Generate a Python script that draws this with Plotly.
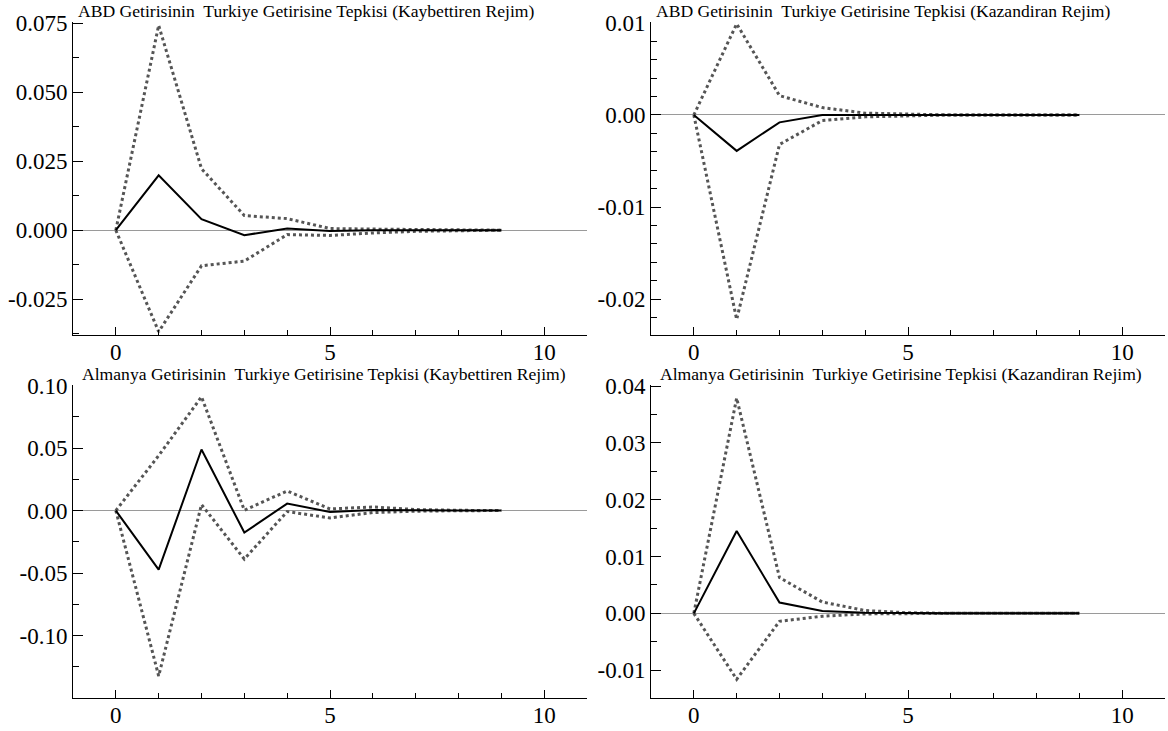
import plotly.graph_objects as go

# Horizon
steps = [0, 1, 2, 3, 4, 5, 6, 7, 8, 9]

# Panel titles
titles = [
    "ABD Getirisinin  Turkiye Getirisine Tepkisi (Kaybettiren Rejim)",
    "ABD Getirisinin  Turkiye Getirisine Tepkisi (Kazandiran Rejim)",
    "Almanya Getirisinin  Turkiye Getirisine Tepkisi (Kaybettiren Rejim)",
    "Almanya Getirisinin  Turkiye Getirisine Tepkisi (Kazandiran Rejim)",
]

# Panel 1: ABD, Kaybettiren
abd_kay_resp = [0, 0.0199, 0.0040, -0.0018, 0.0006, -0.0003, 0.0000, 0.0000, 0.0000, 0.0000]
abd_kay_up = [0, 0.0743, 0.0223, 0.0053, 0.0042, 0.0006, 0.0004, 0.0002, 0.0001, 0.0000]
abd_kay_lo = [0, -0.0368, -0.0129, -0.0112, -0.0016, -0.0019, -0.0010, -0.0004, -0.0002, 0.0000]

# Panel 2: ABD, Kazandiran
abd_kaz_resp = [0, -0.0039, -0.0008, 0.0000, 0.0000, 0.0000, 0.0000, 0.0000, 0.0000, 0.0000]
abd_kaz_up = [0, 0.0099, 0.0021, 0.0008, 0.0002, 0.0001, 0.0000, 0.0000, 0.0000, 0.0000]
abd_kaz_lo = [0, -0.0222, -0.0032, -0.0006, -0.0002, -0.0001, 0.0000, 0.0000, 0.0000, 0.0000]

# Panel 3: Almanya, Kaybettiren
alm_kay_resp = [0, -0.0473, 0.0489, -0.0176, 0.0056, -0.0011, 0.0005, 0.0000, 0.0000, 0.0000]
alm_kay_up = [0, 0.0440, 0.0910, 0.0003, 0.0157, 0.0013, 0.0029, 0.0008, 0.0002, 0.0000]
alm_kay_lo = [0, -0.1324, 0.0048, -0.0388, -0.0008, -0.0059, -0.0016, -0.0005, -0.0001, 0.0000]

# Panel 4: Almanya, Kazandiran
alm_kaz_resp = [0, 0.0145, 0.0019, 0.0004, 0.0001, 0.0000, 0.0000, 0.0000, 0.0000, 0.0000]
alm_kaz_up = [0, 0.0379, 0.0063, 0.0020, 0.0005, 0.0001, 0.0000, 0.0000, 0.0000, 0.0000]
alm_kaz_lo = [0, -0.0116, -0.0014, -0.0005, -0.0001, 0.0000, 0.0000, 0.0000, 0.0000, 0.0000]

# Y tick values / labels per panel
p1_tickvals = [0.075, 0.050, 0.025, 0.000, -0.025]
p1_ticktext = ["0.075", "0.050", "0.025", "0.000", "-0.025"]
p2_tickvals = [0.01, 0.00, -0.01, -0.02]
p2_ticktext = ["0.01", "0.00", "-0.01", "-0.02"]
p3_tickvals = [0.10, 0.05, 0.00, -0.05, -0.10]
p3_ticktext = ["0.10", "0.05", "0.00", "-0.05", "-0.10"]
p4_tickvals = [0.04, 0.03, 0.02, 0.01, 0.00, -0.01]
p4_ticktext = ["0.04", "0.03", "0.02", "0.01", "0.00", "-0.01"]

x_tickvals = [0, 5, 10]
x_ticktext = ["0", "5", "10"]

panels = [
    dict(resp=abd_kay_resp, up=abd_kay_up, lo=abd_kay_lo, tv=p1_tickvals, tt=p1_ticktext,
         yr=[-0.038, 0.0755], minor=0.0125),
    dict(resp=abd_kaz_resp, up=abd_kaz_up, lo=abd_kaz_lo, tv=p2_tickvals, tt=p2_ticktext,
         yr=[-0.0239, 0.0101], minor=0.002),
    dict(resp=alm_kay_resp, up=alm_kay_up, lo=alm_kay_lo, tv=p3_tickvals, tt=p3_ticktext,
         yr=[-0.150, 0.1005], minor=0.025),
    dict(resp=alm_kaz_resp, up=alm_kaz_up, lo=alm_kaz_lo, tv=p4_tickvals, tt=p4_ticktext,
         yr=[-0.0149, 0.0402], minor=0.005),
]

W, H = 1168, 731
# pixel geometry of the panels (left, right, top, bottom)
geom = [
    (73, 587, 22, 335),
    (651, 1165, 22, 335),
    (73, 587, 385, 698),
    (651, 1165, 385, 698),
]
title_pos = [(76, 11), (654, 11), (80, 374), (658, 374)]

FONT = "Liberation Serif, Times New Roman, serif"
fig = go.Figure()
layout = dict(
    width=W, height=H,
    margin=dict(l=0, r=0, t=0, b=0, pad=0, autoexpand=False),
    paper_bgcolor="white", plot_bgcolor="white",
    showlegend=False,
    font=dict(family=FONT, color="black", size=23),
)

annotations = []
for i, p in enumerate(panels):
    n = i + 1
    xa = "x" if n == 1 else f"x{n}"
    ya = "y" if n == 1 else f"y{n}"
    fig.add_trace(go.Scatter(x=steps, y=p["up"], mode="lines", xaxis=xa, yaxis=ya,
                             line=dict(color="#555555", width=3, dash="dot")))
    fig.add_trace(go.Scatter(x=steps, y=p["lo"], mode="lines", xaxis=xa, yaxis=ya,
                             line=dict(color="#555555", width=3, dash="dot")))
    fig.add_trace(go.Scatter(x=steps, y=p["resp"], mode="lines", xaxis=xa, yaxis=ya,
                             line=dict(color="black", width=2)))
    l, r, t, b = geom[i]
    xkey = "xaxis" if n == 1 else f"xaxis{n}"
    ykey = "yaxis" if n == 1 else f"yaxis{n}"
    layout[xkey] = dict(
        domain=[l / W, r / W], anchor=ya, range=[-1, 11], automargin=False,
        showline=True, linecolor="black", linewidth=1, mirror=False,
        showgrid=False, zeroline=False,
        tickmode="array", tickvals=x_tickvals, ticktext=x_ticktext,
        ticks="inside", ticklen=8, tickcolor="black",
        minor=dict(dtick=1, tick0=0, ticks="inside", ticklen=5, tickcolor="black", showgrid=False),
        tickfont=dict(size=23, family=FONT),
        ticklabelstandoff=-4,
    )
    layout[ykey] = dict(
        domain=[1 - b / H, 1 - t / H], anchor=xa, range=p["yr"], automargin=False,
        showline=True, linecolor="black", linewidth=1, mirror=False,
        showgrid=False, zeroline=True, zerolinecolor="#9a9a9a", zerolinewidth=1,
        tickmode="array", tickvals=p["tv"], ticktext=p["tt"],
        ticks="inside", ticklen=10, tickcolor="black",
        minor=dict(dtick=p["minor"], tick0=0, ticks="inside", ticklen=6, tickcolor="black", showgrid=False),
        tickfont=dict(size=23, family=FONT),
    )
    tx, ty = title_pos[i]
    annotations.append(dict(
        text=titles[i], x=tx / W, y=1 - ty / H, xref="paper", yref="paper",
        xanchor="left", yanchor="middle", showarrow=False,
        font=dict(size=17.6, family=FONT, color="black"),
    ))

layout["annotations"] = annotations
fig.update_layout(**layout)
fig.write_html("out.html", config={"displayModeBar": False},
               post_script="document.body.style.margin='0';document.body.style.padding='0';")
